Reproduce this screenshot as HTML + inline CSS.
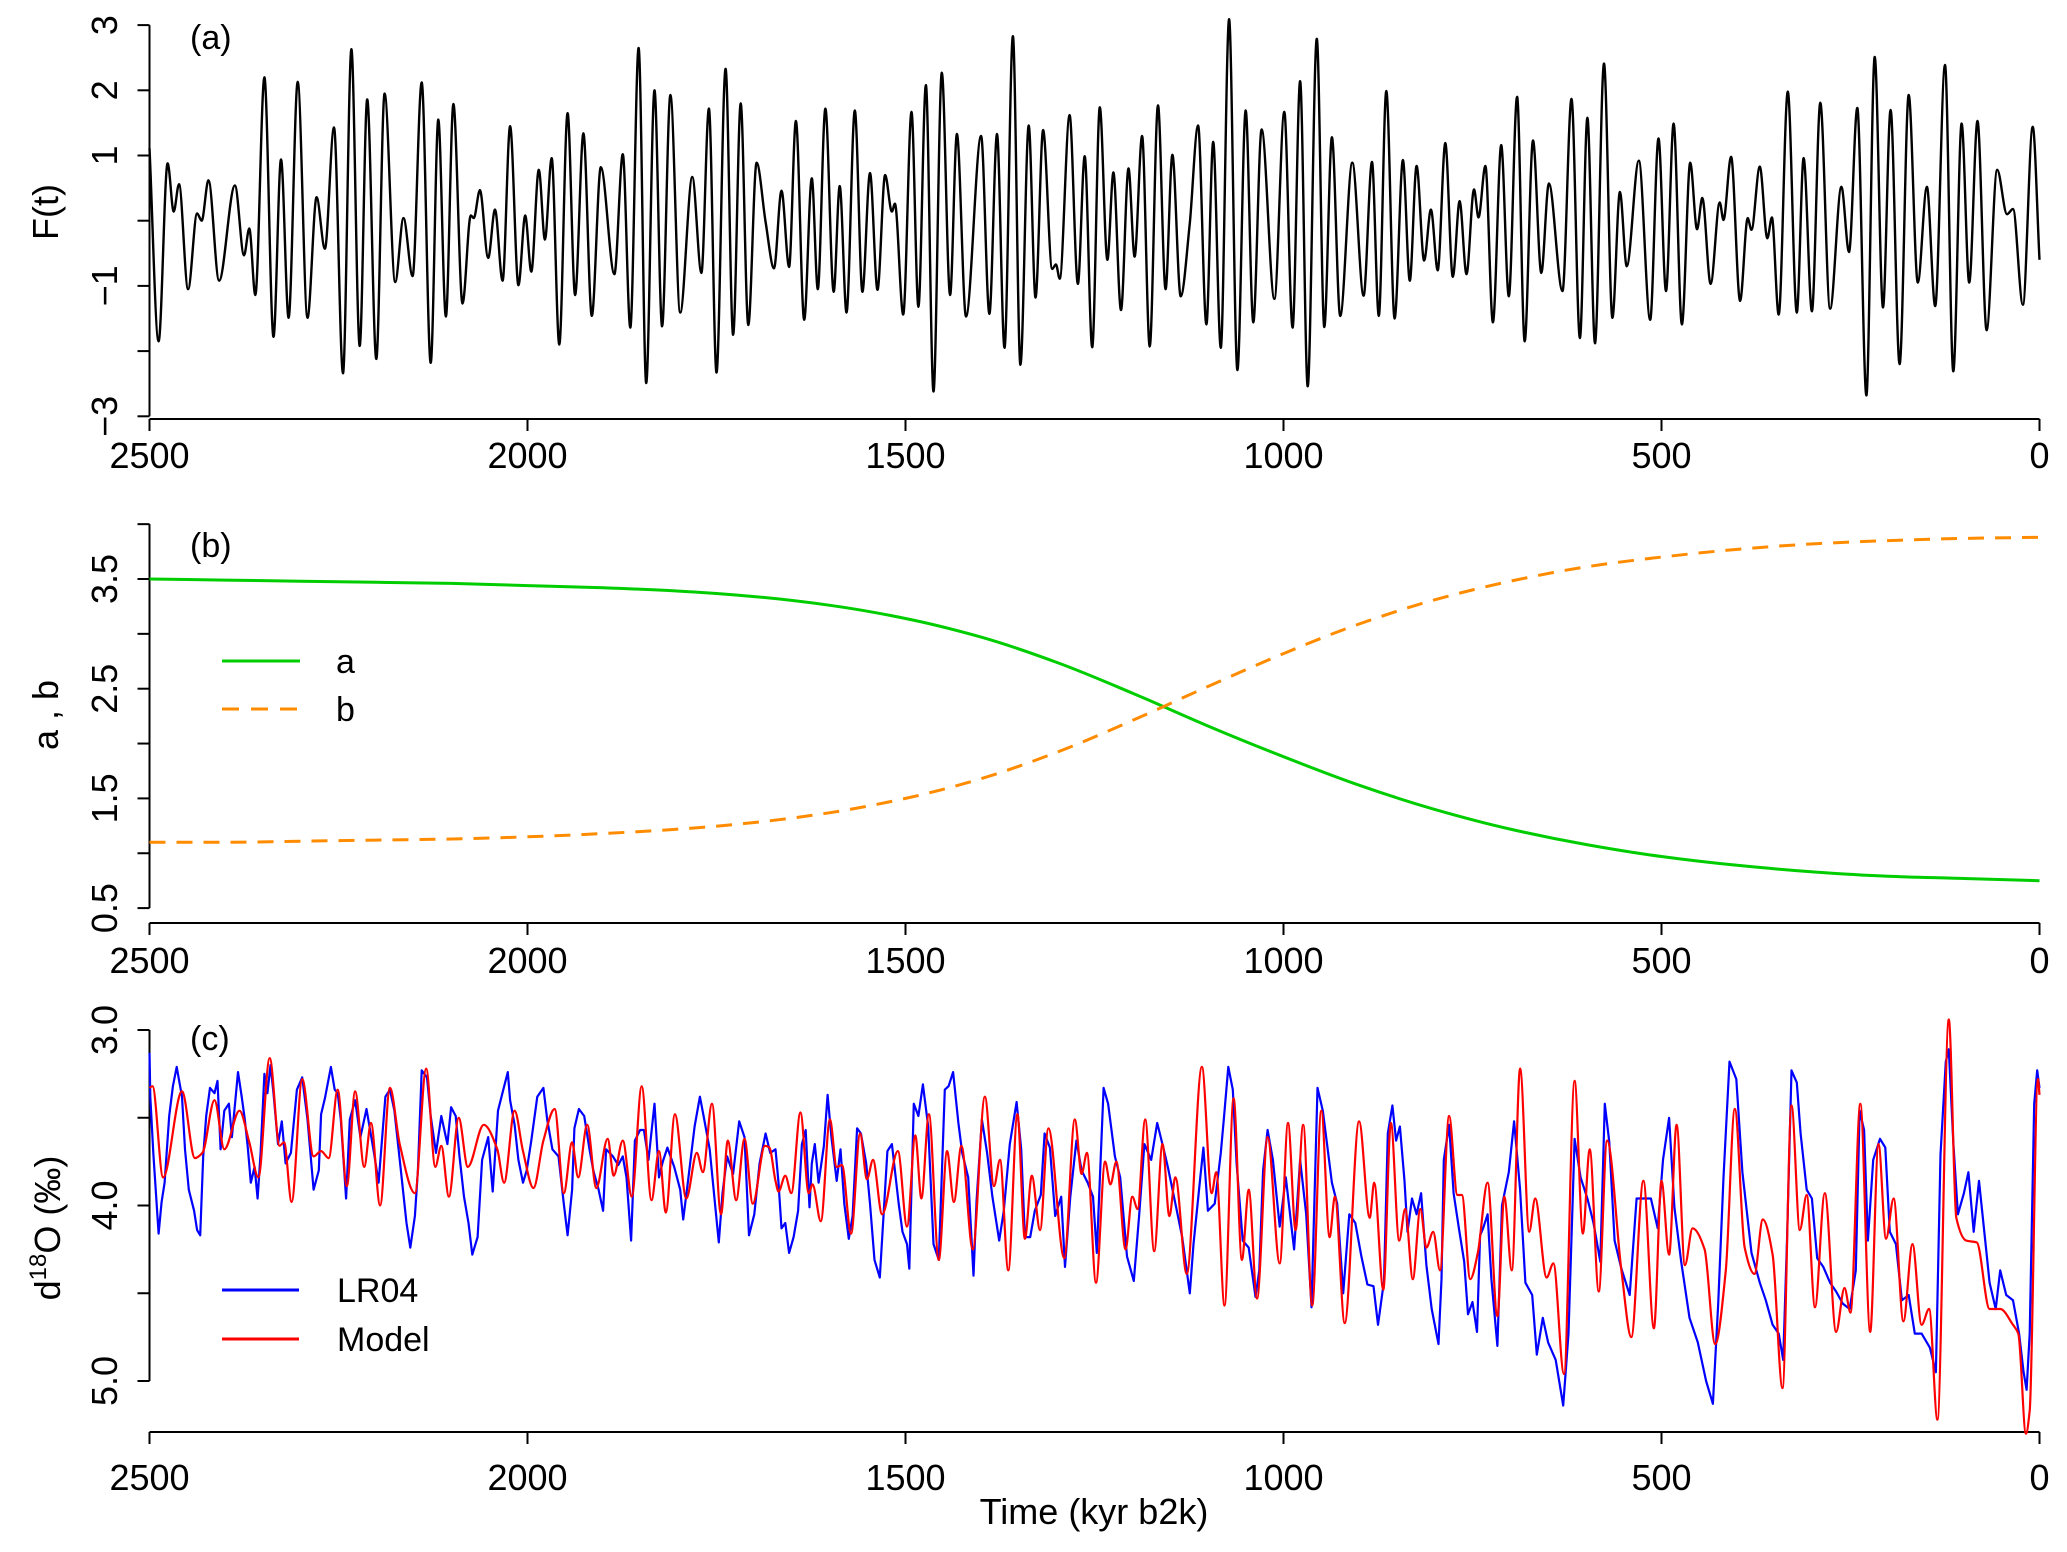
<!DOCTYPE html>
<html><head><meta charset="utf-8"><style>
html,body{margin:0;padding:0;background:#fff}
svg{display:block;font-family:"Liberation Sans",sans-serif}
</style></head><body>
<svg id="fig" width="2067" height="1552" viewBox="0 0 2067 1552" xmlns="http://www.w3.org/2000/svg">
<g id="pa"></g>
<g id="pb"></g>
<g id="pc"></g>
<text x="1094" y="1524" font-size="36" text-anchor="middle">Time (kyr b2k)</text>
</svg>
<script>
// ---- data: panel (a) forcing F(t) extrema ----
const fTime = [2500,2488,2476,2468,2461,2449,2437,2431,2422,2408,2387,2375,2368,2360,2348,2336,2326,2316,2304,2291,2279,2268,2256,2244,2233,2222,2212,2200,2189,2175,2164,2152,2140,2128,2118,2108,2098,2086,2075,2071,2063,2052,2043,2033,2023,2012,2003,1995,1985,1977,1968,1958,1947,1937,1926,1915,1903,1885,1874,1864,1853,1843,1832,1822,1811,1798,1782,1770,1760,1750,1738,1728,1718,1708,1697,1685,1674,
1664,1654,1645,1634,1624,1616,1606,1595,1587,1578,1567,1557,1547,1537,1527,1518,1514,1503,1492,1483,1473,1463,1452,1441,1432,1420,1400,1389,1379,1369,1358,1348,1337,1328,1318,1306,1301,1296,1283,1272,1263,1253,1243,1233,1225,1215,1205,1197,1187,1177,1166,1156,1147,1136,1124,1113,1102,1093,1083,1072,1061,1050,1040,1029,1012,999,988,978,968,956,946,936,925,909,894,883,874,864,853,842,833,
824,814,805,796,786,776,767,758,748,742,733,723,712,702,691,681,670,659,649,631,619,608,598,588,576,565,555,546,530,515,504,494,484,473,462,453,446,435,423,418,408,396,386,381,370,360,354,345,333,321,312,301,290,277,262,252,241,229,218,207,197,185,173,161,149,138,125,114,103,93,82,70,56,43,35,22,9,0];
const fValue = [1.11,-1.85,0.88,0.14,0.56,-1.05,0.11,0.00,0.62,-0.92,0.54,-0.53,-0.12,-1.14,2.20,-1.78,0.94,-1.49,2.13,-1.49,0.36,-0.43,1.43,-2.34,2.63,-1.92,1.86,-2.12,1.95,-0.94,0.04,-0.85,2.12,-2.18,1.55,-1.47,1.79,-1.27,0.08,0.04,0.47,-0.57,0.17,-0.92,1.45,-0.99,0.08,-0.78,0.78,-0.29,0.96,-1.90,1.65,-1.14,1.34,-1.46,0.82,-0.82,1.02,-1.64,2.65,-2.49,2.00,-1.62,1.93,-1.41,0.67,-0.80,1.72,-2.33,2.33,-1.75,1.80,-1.60,0.89,-0.02,-0.73,
0.46,-0.71,1.53,-1.52,0.65,-1.05,1.72,-1.09,0.53,-1.41,1.69,-1.09,0.73,-1.06,0.70,0.14,0.26,-1.44,1.67,-1.32,2.08,-2.62,2.27,-1.14,1.33,-1.47,1.30,-1.43,1.33,-1.95,2.83,-2.21,1.46,-1.18,1.39,-0.74,-0.67,-0.89,1.62,-0.97,0.99,-1.94,1.74,-0.60,0.74,-1.37,0.80,-0.55,1.30,-1.93,1.77,-1.05,1.01,-1.16,-0.04,1.46,-1.59,1.21,-1.95,3.09,-2.29,1.69,-1.56,1.40,-1.20,1.67,-1.64,2.14,-2.54,2.79,-1.63,1.28,-1.46,0.89,-1.15,0.90,-1.46,1.99,-1.50,0.93,-0.92,
0.84,-0.61,0.17,-0.76,1.19,-0.86,0.30,-0.82,0.48,0.05,0.84,-1.56,1.16,-1.16,1.90,-1.85,1.23,-0.80,0.57,-1.08,1.87,-1.80,1.58,-1.88,2.41,-1.49,0.44,-0.70,0.92,-1.52,1.26,-1.08,1.49,-1.59,0.89,-0.13,0.35,-0.97,0.28,0.01,0.98,-1.23,0.04,-0.14,0.83,-0.27,0.05,-1.44,1.98,-1.41,0.96,-1.39,1.81,-1.35,0.52,-0.48,1.73,-2.68,2.51,-1.33,1.70,-2.20,1.93,-0.95,0.52,-1.31,2.39,-2.31,1.49,-0.95,1.53,-1.68,0.78,0.10,0.18,-1.29,1.44,-0.60];
const fTicks = [3,2,1,0,-1,-2,-3];
const fTickLabels = ["3","2","1","","\u22121","","\u22123"];

// ---- data: panel (b) parameters a, b ----
const abTime = [2500,2400,2300,2200,2100,2000,1900,1800,1700,1600,1500,1400,1300,1200,1100,1000,900,800,700,600,500,400,300,200,100,0];
const aValue = [3.50,3.49,3.48,3.47,3.46,3.44,3.42,3.39,3.34,3.26,3.14,2.97,2.74,2.46,2.16,1.88,1.62,1.40,1.22,1.08,0.97,0.89,0.83,0.79,0.77,0.75];
const bValue = [1.10,1.10,1.11,1.12,1.13,1.15,1.18,1.22,1.28,1.37,1.50,1.68,1.92,2.21,2.52,2.82,3.09,3.31,3.48,3.61,3.70,3.77,3.82,3.85,3.87,3.88];
const abTicks = [0.5,1.0,1.5,2.0,2.5,3.0,3.5,4.0];
const abTickLabels = ["0.5","","1.5","","2.5","","3.5",""];

// ---- data: panel (c) d18O ----
const modelTime = [2500,2496,2482,2457,2440,2430,2414,2401,2381,2368,2356,2341,2328,2322,2312,2298,2283,2273,2263,2251,2239,2228,2216,2207,2195,2182,2169,2149,2134,2122,2114,2104,2091,2079,2058,2040,2031,2017,2006,1992,1979,1964,1952,1941,1933,1921,1909,1894,1886,1874,1862,1849,1836,1826,1817,1805,1790,1776,1768,1756,1744,1735,1724,1713,1702,1686,1680,
1672,1668,1659,1651,1639,1628,1623,1612,1600,1591,1584,1572,1560,1551,1543,1531,1510,1498,1487,1479,1469,1456,1445,1436,1426,1411,1395,1383,1375,1364,1352,1342,1333,1322,1311,1290,1276,1267,1260,1248,1236,1229,1221,1209,1200,1193,1183,1171,1160,1151,1143,1128,1108,1095,1089,1078,1066,1055,1046,1035,1021,1005,994,984,974,962,950,939,932,919,900,886,880,868,858,847,
839,829,819,811,802,793,781,770,764,753,743,730,717,708,698,687,675,667,652,643,629,615,604,595,583,572,553,540,524,510,500,490,480,469,459,443,429,415,403,390,377,366,353,340,328,317,308,297,284,269,258,250,237,224,213,203,193,180,168,156,146,135,120,110,97,83,66,52,35,28,18,13,2,0];
const modelValue = [3.33,3.32,3.84,3.35,3.73,3.70,3.40,3.68,3.46,3.64,3.84,3.16,3.66,3.64,3.98,3.28,3.72,3.69,3.73,3.34,3.89,3.35,3.78,3.53,4.00,3.33,3.65,3.93,3.22,3.78,3.66,3.95,3.50,3.78,3.54,3.68,3.87,3.46,3.69,3.90,3.63,3.45,3.93,3.64,3.84,3.54,3.90,3.62,3.83,3.63,3.95,3.32,3.97,3.69,4.04,3.48,3.96,3.70,3.81,3.42,4.05,3.63,3.97,3.62,3.99,3.66,3.67,
3.86,3.92,3.83,3.93,3.47,3.93,3.88,4.09,3.51,3.78,3.77,4.16,3.59,3.85,3.74,4.05,3.69,4.12,3.60,3.96,3.48,4.31,3.69,3.98,3.66,4.25,3.38,3.89,3.74,4.37,3.48,4.19,3.83,4.14,3.56,4.30,3.51,3.82,3.70,4.44,3.75,3.88,3.75,4.25,3.95,4.02,3.51,4.26,3.65,4.06,3.84,4.39,3.21,3.93,3.81,4.57,3.39,4.31,3.91,4.53,3.61,4.33,3.53,4.14,3.54,4.57,3.46,4.18,3.95,4.67,3.52,4.07,3.87,4.48,3.53,4.20,
4.02,4.42,4.02,4.24,4.15,4.37,3.49,3.94,3.94,4.42,4.27,3.87,4.63,3.95,4.37,3.22,4.15,3.96,4.41,4.33,4.96,3.29,4.16,3.68,4.49,3.63,4.37,4.75,3.86,4.70,3.86,4.28,3.54,4.34,4.13,4.25,4.79,4.37,3.45,4.24,4.39,4.08,4.28,5.04,3.43,4.14,3.94,4.58,3.93,4.72,4.47,4.61,3.42,4.72,3.65,4.19,3.96,4.66,4.22,4.68,4.59,5.22,2.94,4.07,4.20,4.21,4.59,4.59,4.68,4.73,5.30,5.17,3.28,3.37];
const lrTime = [2500,2499,2495,2488,2484,2480,2474,2469,2464,2457,2453,2448,2441,2437,2433,2429,2425,2420,2414,2410,2406,2401,2395,2391,2383,2378,2374,2370,2366,2361,2357,2353,2348,2344,2340,2336,2330,2325,2320,2313,2305,2298,2291,2283,2276,2273,2268,2260,2255,2251,2247,2240,2235,2228,2221,2213,2203,2197,2188,2182,2176,2168,2160,2155,2149,2145,2140,2133,2128,2121,2114,2106,2101,2095,2090,2084,2078,2073,2066,2060,2052,2046,2039,2032,2026,2023,2017,2012,2006,2001,1995,1987,1979,1974,1967,1959,1952,1947,1941,1938,1932,1925,1918,1913,1906,1900,1896,1887,1880,1874,1869,1863,1858,1851,1846,1840,1832,1826,1821,1815,1806,1798,1794,1788,1779,1772,1767,1759,1752,1747,1742,1736,1728,1720,1713,1707,1700,1693,1685,1679,
1672,1668,1664,1659,1654,1648,1642,1637,1632,1627,1624,1620,1615,1608,1603,1598,1591,1586,1581,1575,1570,1564,1559,1552,1547,1541,1534,1529,1524,1518,1514,1509,1504,1498,1495,1489,1483,1477,1470,1463,1456,1448,1443,1437,1430,1425,1417,1410,1406,1399,1392,1385,1376,1370,1362,1353,1347,1342,1335,1329,1321,1316,1309,1302,1294,1289,1282,1274,1267,1259,1252,1247,1238,1232,1223,1216,1207,1198,1191,1184,1175,1167,1159,1153,1143,1134,1124,1119,1110,1106,1100,1091,1083,1079,1073,1067,1062,1054,1046,1037,1032,1027,1021,1014,1005,997,986,978,970,963,955,948,943,936,929,921,913,905,897,889,881,875,867,862,856,851,846,
840,836,830,824,818,811,804,795,791,788,781,775,768,761,756,750,744,740,736,730,725,717,711,702,695,687,680,671,665,657,650,640,630,623,615,607,598,590,581,575,569,562,553,542,533,525,514,505,498,490,483,474,463,452,441,432,425,418,410,401,393,381,370,362,353,345,339,334,328,321,316,308,301,294,286,277,269,260,251,243,238,232,227,220,211,204,198,190,182,173,165,156,145,137,131,124,120,114,108,100,94,87,80,73,66,58,52,44,35,27,21,17,13,7,3,0];
const lrValue = [3.13,3.38,3.70,4.16,3.98,3.87,3.49,3.32,3.21,3.38,3.68,3.91,4.03,4.14,4.17,3.72,3.49,3.33,3.36,3.29,3.68,3.46,3.42,3.61,3.24,3.38,3.51,3.67,3.87,3.78,3.96,3.70,3.25,3.36,3.20,3.36,3.65,3.52,3.76,3.70,3.34,3.27,3.51,3.91,3.80,3.48,3.39,3.21,3.34,3.36,3.51,3.96,3.51,3.40,3.61,3.45,3.70,3.87,3.38,3.34,3.46,3.78,4.10,4.24,4.06,3.80,3.23,3.27,3.49,3.70,3.49,3.65,3.44,3.49,3.72,3.95,4.10,4.28,4.18,3.74,3.61,3.92,3.46,3.34,3.24,3.40,3.54,3.74,3.87,3.80,3.63,3.38,3.33,3.51,3.68,3.72,3.99,4.17,3.91,3.56,3.45,3.49,3.68,3.80,3.91,4.03,3.68,3.72,3.77,3.72,3.84,4.20,3.63,3.57,3.57,3.74,3.42,3.84,3.75,3.67,3.78,3.91,4.08,3.87,3.55,3.38,3.49,3.68,3.99,4.21,3.93,3.72,3.82,3.52,3.61,4.17,4.05,3.76,3.59,3.70,
3.68,3.87,4.13,4.10,4.27,4.18,4.03,3.65,3.57,4.01,3.76,3.65,3.87,3.66,3.37,3.61,3.86,3.68,3.99,4.19,4.06,3.56,3.59,3.76,3.99,4.31,4.41,4.05,3.69,3.65,3.80,3.99,4.15,4.22,4.36,3.42,3.49,3.31,3.55,4.22,4.31,3.34,3.32,3.24,3.53,3.70,3.84,4.40,3.97,3.51,3.70,3.95,4.20,4.03,3.65,3.41,3.68,4.18,4.18,4.03,3.94,3.59,3.67,4.06,3.95,4.35,3.95,3.63,3.80,3.87,3.95,4.27,3.33,3.42,3.72,3.84,4.29,4.43,4.06,3.65,3.74,3.53,3.67,3.78,3.99,4.18,4.50,4.22,3.84,3.67,4.03,3.99,3.70,3.51,3.21,3.34,3.76,4.20,4.24,4.52,4.37,3.80,3.57,3.74,4.12,3.84,4.25,3.74,4.05,4.58,3.33,3.46,3.63,3.87,3.99,4.50,4.05,4.10,4.29,4.45,4.46,4.68,4.43,3.59,3.43,3.63,3.55,
3.86,4.15,3.96,4.05,3.93,4.34,4.59,4.79,4.42,3.74,3.54,3.93,4.13,4.32,4.62,4.55,4.72,4.17,4.13,4.05,4.42,4.80,4.00,3.81,3.52,3.91,4.44,4.51,4.85,4.64,4.78,4.88,5.14,4.73,3.62,3.84,3.96,4.10,4.32,3.42,3.64,4.20,4.36,4.51,3.96,3.96,3.96,4.13,3.74,3.50,4.01,4.32,4.64,4.78,5.00,5.13,4.56,3.84,3.18,3.28,3.81,4.27,4.44,4.54,4.68,4.73,4.88,4.20,3.23,3.30,3.59,3.91,3.96,4.30,4.35,4.44,4.49,4.56,4.59,4.37,3.46,3.57,4.20,3.74,3.62,3.67,4.15,4.22,4.54,4.51,4.73,4.73,4.81,4.95,3.71,3.18,3.11,3.64,4.05,3.93,3.81,4.15,3.86,4.15,4.44,4.59,4.37,4.51,4.54,4.73,4.95,5.05,4.73,3.42,3.23,3.33];
const cTicks = [3.0,3.5,4.0,4.5,5.0];
const cTickLabels = ["3.0","","4.0","","5.0"];
const timeTicks = [2500,2000,1500,1000,500,0];
const timeTickLabels = ["2500","2000","1500","1000","500","0"];

// ---- helpers ----
const NS = "http://www.w3.org/2000/svg";
const X0 = 149.5, PXK = 0.756;
function xT(t){ return X0 + (2500 - t) * PXK; }
function mk(tag, parent, attrs){ const e = document.createElementNS(NS, tag); for (const k in attrs) e.setAttribute(k, attrs[k]); parent.appendChild(e); return e; }
function smoothPath(xs, ys){
  const n = xs.length, d = [], m = [];
  for (let i = 0; i < n - 1; i++) d.push((ys[i+1]-ys[i])/(xs[i+1]-xs[i]));
  for (let i = 0; i < n; i++){
    if (i === 0) m.push(d[0]); else if (i === n-1) m.push(d[n-2]);
    else if (d[i-1]*d[i] <= 0) m.push(0);
    else { const h0 = xs[i]-xs[i-1], h1 = xs[i+1]-xs[i]; const w1 = 2*h1+h0, w2 = h1+2*h0; m.push((w1+w2)/(w1/d[i-1]+w2/d[i])); }
  }
  let p = "M" + xs[0].toFixed(1) + "," + ys[0].toFixed(1);
  for (let i = 0; i < n - 1; i++){
    const h = (xs[i+1]-xs[i])/3;
    p += "C" + (xs[i]+h).toFixed(1) + "," + (ys[i]+m[i]*h).toFixed(1) + " " + (xs[i+1]-h).toFixed(1) + "," + (ys[i+1]-m[i+1]*h).toFixed(1) + " " + xs[i+1].toFixed(1) + "," + ys[i+1].toFixed(1);
  }
  return p;
}
function linePath(xs, ys){ return xs.map((x,i)=>(i?"L":"M")+x.toFixed(1)+","+ys[i].toFixed(1)).join(""); }

function axes(g, yfun, ticks, labels, axisY, labelY, name){
  const ytop = yfun(ticks[ticks.length-1]), ybot = yfun(ticks[0]);
  const yl = mk("line", g, {x1:X0, x2:X0, y1:Math.min(ytop,ybot), y2:Math.max(ytop,ybot), stroke:"#000", "stroke-width":2});
  
  
  ticks.forEach((v,i)=>{
    const y = yfun(v);
    const tk = mk("line", g, {x1:X0-12, x2:X0, y1:y, y2:y, stroke:"#000", "stroke-width":2});
    
    
    if (labels[i]){
      const tx = mk("text", g, {x:0, y:0, "font-size":36, "text-anchor":"middle", transform:"translate(117," + y + ") rotate(-90)"});
      tx.textContent = labels[i];
      
      
    }
  });
  const xl = mk("line", g, {x1:xT(2500), x2:xT(0), y1:axisY, y2:axisY, stroke:"#000", "stroke-width":2});
  
  
  timeTicks.forEach((t,i)=>{
    const x = xT(t);
    const tk = mk("line", g, {x1:x, x2:x, y1:axisY, y2:axisY+12, stroke:"#000", "stroke-width":2});
    
    
    const tx = mk("text", g, {x:x, y:labelY, "font-size":36, "text-anchor":"middle"});
    tx.textContent = timeTickLabels[i];
    
    
  });
}

// ---- panel a ----
const ga = document.getElementById("pa");
const yA = v => 220.7 - 65.2 * v;
axes(ga, yA, fTicks, fTickLabels, 419, 468, "panel-a");
const pA = mk("path", ga, {d:smoothPath(fTime.map(xT), fValue.map(yA)), fill:"none", stroke:"#000", "stroke-width":2.4});


let t;
t = mk("text", ga, {x:190, y:49, "font-size":34}); t.textContent = "(a)";


t = mk("text", ga, {x:0, y:0, "font-size":36, "text-anchor":"middle", transform:"translate(58,212) rotate(-90)"}); t.textContent = "F(t)";



// ---- panel b ----
const gb = document.getElementById("pb");
const yB = v => 579 - (v - 3.5) * 109.7;
axes(gb, yB, abTicks, abTickLabels, 923, 973, "panel-b");
const pAa = mk("path", gb, {d:smoothPath(abTime.map(xT), aValue.map(yB)), fill:"none", stroke:"#00cd00", "stroke-width":3});


const pBb = mk("path", gb, {d:smoothPath(abTime.map(xT), bValue.map(yB)), fill:"none", stroke:"#ff8c00", "stroke-width":3, "stroke-dasharray":"16,11"});


t = mk("text", gb, {x:190, y:557, "font-size":34}); t.textContent = "(b)";


t = mk("text", gb, {x:0, y:0, "font-size":36, "text-anchor":"middle", transform:"translate(58,715) rotate(-90)"}); t.textContent = "a , b";


let l;
l = mk("line", gb, {x1:222, x2:300, y1:661, y2:661, stroke:"#00cd00", "stroke-width":3});


t = mk("text", gb, {x:336, y:673, "font-size":34}); t.textContent = "a";


l = mk("line", gb, {x1:222, x2:300, y1:709, y2:709, stroke:"#ff8c00", "stroke-width":3, "stroke-dasharray":"17,12"});


t = mk("text", gb, {x:336, y:721, "font-size":34}); t.textContent = "b";



// ---- panel c ----
const gc = document.getElementById("pc");
const yC = v => 1030 + (v - 3.0) * 175.5;
axes(gc, yC, cTicks, cTickLabels, 1432, 1490, "panel-c");
const pLR = mk("path", gc, {d:linePath(lrTime.map(xT), lrValue.map(yC)), fill:"none", stroke:"#0000ff", "stroke-width":2.2, "stroke-linejoin":"round"});


const pM = mk("path", gc, {d:smoothPath(modelTime.map(xT), modelValue.map(yC)), fill:"none", stroke:"#ff0000", "stroke-width":2.2});


t = mk("text", gc, {x:190, y:1050, "font-size":34}); t.textContent = "(c)";


t = mk("text", gc, {x:0, y:0, "font-size":36, "text-anchor":"middle", transform:"translate(60,1228) rotate(-90)"});
t.innerHTML = 'd<tspan font-size="24" dy="-14">18</tspan><tspan dy="14">O (\u2030)</tspan>';


l = mk("line", gc, {x1:222, x2:299, y1:1290, y2:1290, stroke:"#0000ff", "stroke-width":3});


t = mk("text", gc, {x:337, y:1302, "font-size":34}); t.textContent = "LR04";


l = mk("line", gc, {x1:222, x2:299, y1:1339, y2:1339, stroke:"#ff0000", "stroke-width":3});


t = mk("text", gc, {x:337, y:1351, "font-size":34}); t.textContent = "Model";


</script>
</body></html>
